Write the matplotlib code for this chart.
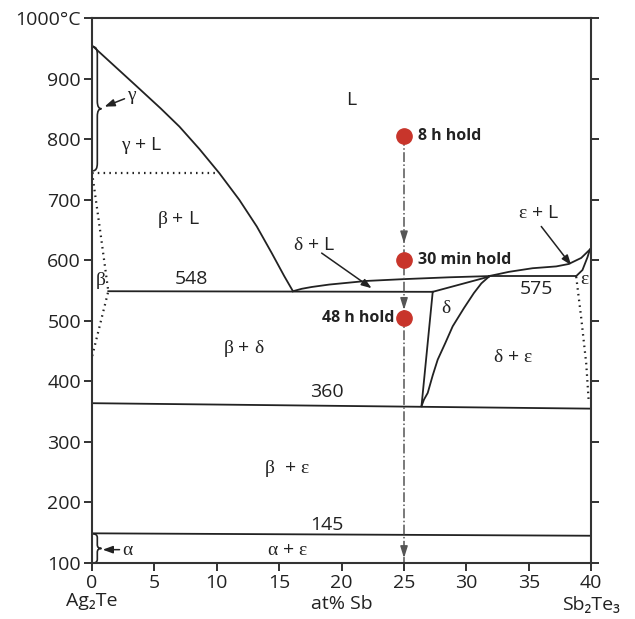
import matplotlib
matplotlib.use("Agg")
import matplotlib.pyplot as plt
from matplotlib.path import Path
from matplotlib.patches import PathPatch
from matplotlib.transforms import blended_transform_factory

plt.rcParams['font.family'] = ['Open Sans', 'DejaVu Sans']
plt.rcParams['mathtext.fontset'] = 'custom'
plt.rcParams['mathtext.rm'] = 'Liberation Serif'
plt.rcParams['mathtext.it'] = 'Liberation Serif:italic'

# phase boundaries (x = at% Sb, y = deg C)
liq1_x = [0, 3.5, 5.5, 7.0, 8.6, 10.2, 11.8, 13.2, 14.4, 15.4, 16.1]
liq1_y = [955, 889, 851, 821, 784, 744, 700, 656, 612, 574, 549]
liq2_x = [16.1, 16.8, 17.6, 19, 22, 25, 28.6, 31.8, 32.5, 33.4, 35.3, 37.2, 38.2, 39.2, 39.9]
liq2_y = [549, 553, 556, 560, 566, 569, 572, 574, 577, 581, 587, 590, 594, 604, 618]
eut_x, eut_y = [1.3, 27.3], [549, 548]
per_x, per_y = [31.8, 38.8], [574, 574]
line360_x, line360_y = [0, 40], [364, 355]
line145_x, line145_y = [0, 40], [149, 145]
delta_top_x, delta_top_y = [27.3, 31.8], [548, 573]
delta_left_x, delta_left_y = [27.3, 26.4], [548, 359]
delta_right_x = [31.8, 31.2, 30.6, 29.8, 28.9, 28.3, 27.7, 27.3, 26.9, 26.6, 26.4]
delta_right_y = [573, 562, 546, 521, 491, 463, 436, 410, 381, 370, 359]
eps_top_x, eps_top_y = [38.8, 39.3, 39.7, 39.9], [574, 584, 605, 618]
eps_dot_x, eps_dot_y = [38.8, 39.2, 39.6, 39.8], [573, 505, 430, 368]
beta_dot_x, beta_dot_y = [0, 0.64, 1.3, 0], [745, 650, 549, 441]
gam_dot_x, gam_dot_y = [0, 10.2], [745, 745]

hold_x = 25
hold_t = [805, 600, 504]
hold_labels = ['8 h hold', '30 min hold', '48 h hold']
arrow_tips = [628, 518, 108]

x_ticks = [0, 5, 10, 15, 20, 25, 30, 35, 40]
y_ticks = [100, 200, 300, 400, 500, 600, 700, 800, 900, 1000]
y_ticklabels = ['100', '200', '300', '400', '500', '600', '700', '800', '900', '1000°C']

lc = '#222222'
red = '#c8352b'
gray = '#555555'

fig = plt.figure(figsize=(6.35, 6.19), dpi=100)
ax = fig.add_axes([0.145, 0.0905, 0.786, 0.880])

solid = dict(color=lc, lw=1.3)
dotted = dict(color=lc, lw=1.6, linestyle=(0, (0.7, 1.9)))

ax.plot(liq1_x, liq1_y, **solid)
ax.plot(liq2_x, liq2_y, **solid)
ax.plot(eut_x, eut_y, **solid)
ax.plot(per_x, per_y, **solid)
ax.plot(line360_x, line360_y, **solid)
ax.plot(line145_x, line145_y, **solid)
ax.plot(delta_top_x, delta_top_y, **solid)
ax.plot(delta_left_x, delta_left_y, **solid)
ax.plot(delta_right_x, delta_right_y, **solid)
ax.plot(eps_top_x, eps_top_y, **solid)
ax.plot(eps_dot_x, eps_dot_y, **dotted)
ax.plot(beta_dot_x, beta_dot_y, **dotted)
ax.plot(gam_dot_x, gam_dot_y, **dotted)


# curly brace along the left axis, tip pointing right
def brace(y0, y1, x0=0.08, xb=0.42, xt=0.75, r=None):
    ym = (y0 + y1) / 2
    if r is None:
        r = (y1 - y0) * 0.06
    verts = [(x0, y1), (xb, y1), (xb, y1 - r),
             (xb, ym + r),
             (xb, ym), (xt, ym),
             (xb, ym), (xb, ym - r),
             (xb, y0 + r),
             (xb, y0), (x0, y0)]
    codes = [Path.MOVETO, Path.CURVE3, Path.CURVE3,
             Path.LINETO,
             Path.CURVE3, Path.CURVE3,
             Path.CURVE3, Path.CURVE3,
             Path.LINETO,
             Path.CURVE3, Path.CURVE3]
    ax.add_patch(PathPatch(Path(verts, codes), fill=False, color=lc, lw=1.2))


brace(748, 953)
brace(100, 148, r=6)

# holding path at 25 at% Sb
ax.plot([hold_x, hold_x], [hold_t[0], 100], color=gray, lw=1.1, linestyle='dashdot')
for tip in arrow_tips:
    ax.annotate('', xy=(hold_x, tip), xytext=(hold_x, tip + 18),
                arrowprops=dict(arrowstyle='-|>,head_length=0.7,head_width=0.22',
                                color=gray, lw=1.1, shrinkA=0, shrinkB=0))
ax.plot([hold_x] * 3, hold_t, 'o', color=red, markersize=11, zorder=5)
ax.text(hold_x + 1.15, hold_t[0], hold_labels[0], fontsize=11.5, fontweight='bold',
        ha='left', va='center', color='#222222')
ax.text(hold_x + 1.15, hold_t[1], hold_labels[1], fontsize=11.5, fontweight='bold',
        ha='left', va='center', color='#222222')
ax.text(hold_x - 0.75, hold_t[2], hold_labels[2], fontsize=11.5, fontweight='bold',
        ha='right', va='center', color='#222222')

# region labels
fs = 14
lab = dict(fontsize=fs, ha='center', va='center', color='#222222')
ax.text(20.8, 865, 'L', **lab)
ax.text(3.2, 870, r'$\mathrm{\gamma}$', **lab)
ax.text(4.0, 790, r'$\mathrm{\gamma}$ + L', **lab)
ax.text(6.9, 667, r'$\mathrm{\beta}$ + L', **lab)
ax.text(0.65, 567, r'$\mathrm{\beta}$', **lab)
ax.text(8.0, 569, '548', **lab)
ax.text(12.2, 455, r'$\mathrm{\beta}$ + $\mathrm{\delta}$', **lab)
ax.text(17.8, 626, r'$\mathrm{\delta}$ + L', **lab)
ax.text(28.4, 521, r'$\mathrm{\delta}$', **lab)
ax.text(35.8, 678, r'$\mathrm{\varepsilon}$ + L', **lab)
ax.text(35.6, 552, '575', **lab)
ax.text(39.45, 569, r'$\mathrm{\varepsilon}$', **lab)
ax.text(33.7, 440, r'$\mathrm{\delta}$ + $\mathrm{\varepsilon}$', **lab)
ax.text(18.8, 382, '360', **lab)
ax.text(15.6, 256, r'$\mathrm{\beta}$  + $\mathrm{\varepsilon}$', **lab)
ax.text(18.8, 163, '145', **lab)
ax.text(15.7, 122, r'$\mathrm{\alpha}$ + $\mathrm{\varepsilon}$', **lab)
ax.text(2.9, 121, r'$\mathrm{\alpha}$', **lab)

arr = dict(arrowstyle='-|>,head_length=0.6,head_width=0.22', color=lc, lw=1.1,
           shrinkA=0, shrinkB=0)
ax.annotate('', xy=(1.0, 854), xytext=(2.6, 867), arrowprops=arr)
ax.annotate('', xy=(0.85, 122), xytext=(2.2, 122), arrowprops=arr)
ax.annotate('', xy=(22.4, 554), xytext=(18.4, 612), arrowprops=arr)
ax.annotate('', xy=(38.4, 592), xytext=(36.0, 656), arrowprops=arr)

# axes
ax.set_xlim(0, 40)
ax.set_ylim(100, 1000)
ax.set_xticks(x_ticks)
ax.set_xticklabels([str(v) for v in x_ticks])
ax.set_yticks(y_ticks)
ax.set_yticklabels(y_ticklabels)
ax.tick_params(axis='both', direction='out', length=6, width=1.3, labelsize=14,
               colors='#222222', pad=2)
ax.tick_params(axis='y', right=True)
for s in ax.spines.values():
    s.set_linewidth(1.5)
    s.set_color('#333333')

tr = blended_transform_factory(ax.transData, ax.transAxes)
ax.text(0, -0.07, 'Ag₂Te', transform=tr, ha='center', va='center', fontsize=14,
        color='#222222')
ax.text(40, -0.077, 'Sb₂Te₃', transform=tr, ha='center', va='center', fontsize=14,
        color='#222222')
ax.set_xlabel('at% Sb', fontsize=14, color='#222222', labelpad=2)

fig.savefig('out.png', dpi=100)
